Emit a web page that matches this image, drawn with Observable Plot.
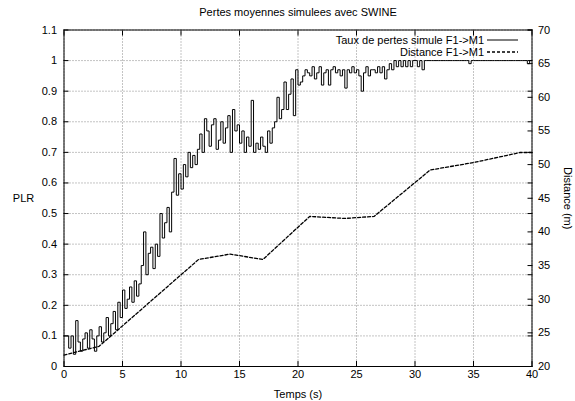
<!DOCTYPE html>
<html><head><meta charset="utf-8">
<script src="https://cdn.jsdelivr.net/npm/d3@7"></script>
<script src="https://cdn.jsdelivr.net/npm/@observablehq/plot@0.6"></script>
<style>body{margin:0;background:#fff}</style>
</head><body><div id="chart"></div>
<script>
const title = "Pertes moyennes simulees avec SWINE";
const xLabel = "Temps (s)";
const yLabel = "PLR";
const y2Label = "Distance (m)";
const plrName = "Taux de pertes simule F1->M1";
const distName = "Distance F1->M1";

const xTicks = [0, 5, 10, 15, 20, 25, 30, 35, 40];
const yTicks = [0, 0.1, 0.2, 0.3, 0.4, 0.5, 0.6, 0.7, 0.8, 0.9, 1, 1.1];
const y2Ticks = [20, 25, 30, 35, 40, 45, 50, 55, 60, 65, 70];

// PLR sampled every 0.2 s from 0 to 40 s
const plrStep = 0.2;
const plrValues = [
  0.10, 0.10, 0.06, 0.10, 0.04, 0.15, 0.08, 0.05, 0.09, 0.11, 0.06, 0.12, 0.09, 0.05, 0.10,
  0.13, 0.08, 0.11, 0.16, 0.10, 0.14, 0.18, 0.12, 0.21, 0.16,
  0.25, 0.19, 0.22, 0.26, 0.21, 0.28, 0.23, 0.27, 0.33, 0.44,
  0.30, 0.37, 0.39, 0.32, 0.40, 0.36, 0.50, 0.42, 0.47, 0.52,
  0.44, 0.57, 0.68, 0.56, 0.63, 0.58, 0.66, 0.62, 0.70, 0.65,
  0.69, 0.66, 0.71, 0.76, 0.70, 0.81, 0.77, 0.72, 0.79, 0.81,
  0.71, 0.74, 0.80, 0.73, 0.78, 0.82, 0.70, 0.84, 0.77, 0.79,
  0.73, 0.77, 0.70, 0.75, 0.72, 0.87, 0.70, 0.73, 0.71, 0.75,
  0.72, 0.70, 0.77, 0.73, 0.78, 0.80, 0.88, 0.81, 0.84, 0.93,
  0.84, 0.89, 0.94, 0.82, 0.97, 0.92, 0.93, 0.95, 0.97, 0.96,
  0.95, 0.98, 0.94, 0.96, 0.98, 0.92, 0.96, 0.97, 0.92, 0.97,
  0.98, 0.96, 0.97, 0.95, 0.97, 0.91, 0.97, 0.96, 0.98, 0.96,
  0.97, 0.95, 0.90, 0.96, 0.98, 0.95, 0.97, 0.97, 0.96, 0.98,
  0.96, 0.98, 0.94, 0.97, 0.99, 0.97, 1.00, 0.98, 1.00, 0.98,
  1.00, 0.98, 1.00, 0.98, 1.00, 1.00, 0.98, 1.00, 0.97, 1.00,
  1.00, 1.00, 1.00, 1.00, 1.00, 1.00, 1.00, 1.00, 1.00, 1.00,
  1.00, 1.00, 1.00, 1.00, 1.00, 1.00, 1.00, 1.00, 0.99, 1.00,
  1.00, 1.00, 1.00, 1.00, 1.00, 1.00, 1.00, 1.00, 1.00, 1.00,
  1.00, 1.00, 1.00, 1.00, 1.00, 1.00, 1.00, 1.00, 1.00, 1.00,
  1.00, 1.00, 1.00, 0.99, 1.00, 1.00
];
const plrTimes = plrValues.map((_, i) => +(i * plrStep).toFixed(1));

const distTimes  = [0,    3,    11.5, 14.2, 17,   21,   24,   26.5, 31.3, 35,   39,   40];
const distValues = [21.7, 23.0, 35.9, 36.7, 35.9, 42.3, 42.0, 42.3, 49.2, 50.3, 51.8, 51.8];

const yMax = 1.1, y2Min = 20, y2Max = 70;
const toY = d => (d - y2Min) / (y2Max - y2Min) * yMax;
const fromY = v => v / yMax * (y2Max - y2Min) + y2Min;

const FONT = "Liberation Sans, Arial, Helvetica, sans-serif";

function legendSamples(index, scales, values, dims) {
  const g = d3.create("svg:g");
  const x2 = dims.width - dims.marginRight - 13.5;
  const x1 = x2 - 31;
  [[dims.marginTop + 10.5, null, 1], [dims.marginTop + 22.5, "3,2", 1.3]].forEach(([y, dash, w]) => {
    g.append("line").attr("x1", x1).attr("x2", x2).attr("y1", y).attr("y2", y)
      .attr("stroke", "#000").attr("stroke-width", w).attr("stroke-dasharray", dash);
  });
  return g.node();
}

const chart = Plot.plot({
  width: 575,
  height: 401,
  marginLeft: 63.5,
  marginRight: 43.5,
  marginTop: 29.5,
  marginBottom: 35,
  style: {fontFamily: FONT, fontSize: "11px", background: "#fff", color: "#000"},
  x: {domain: [0, 40]},
  y: {domain: [0, yMax]},
  marks: [
    Plot.gridX(xTicks, {stroke: "#888", strokeOpacity: 1, strokeDasharray: "1,2"}),
    Plot.gridY(yTicks, {stroke: "#888", strokeOpacity: 1, strokeDasharray: "1,2"}),
    Plot.axisX(xTicks, {anchor: "bottom", tickSize: 0, tickPadding: 4, label: null}),
    Plot.axisX(xTicks, {anchor: "bottom", tickSize: -5, fill: "none", label: null}),
    Plot.axisX(xTicks, {anchor: "top", tickSize: -5, fill: "none", label: null}),
    Plot.axisY(yTicks, {anchor: "left", tickSize: 0, tickPadding: 7, label: null, tickFormat: d => String(+d.toFixed(1))}),
    Plot.axisY(yTicks, {anchor: "left", tickSize: -5, fill: "none", label: null}),
    Plot.axisY(yTicks, {anchor: "right", tickSize: -5, fill: "none", label: null}),
    Plot.axisY(y2Ticks.map(toY), {anchor: "right", tickSize: 0, tickPadding: 6, label: null, tickFormat: v => String(Math.round(fromY(v)))}),
    Plot.axisY(y2Ticks.map(toY), {anchor: "right", tickSize: -5, fill: "none", label: null}),
    Plot.line(plrValues, {x: plrTimes, y: plrValues, curve: "step-after", stroke: "#000", strokeWidth: 1}),
    Plot.line(distValues, {x: distTimes, y: distValues.map(toY), stroke: "#000", strokeWidth: 1.3, strokeDasharray: "3,2"}),
    Plot.frame({stroke: "#000", strokeWidth: 1}),
    Plot.text([title], {frameAnchor: "top", dy: -17.5, lineAnchor: "middle", fontSize: 11}),
    Plot.text([xLabel], {frameAnchor: "bottom", dy: 28, lineAnchor: "middle", fontSize: 11}),
    Plot.text([yLabel], {frameAnchor: "left", dx: -40.5, textAnchor: "middle", fontSize: 11}),
    Plot.text([y2Label], {frameAnchor: "right", dx: 35.5, textAnchor: "middle", rotate: 90, fontSize: 11}),
    Plot.text([plrName], {frameAnchor: "top-right", dx: -48, dy: 10.5, textAnchor: "end", lineAnchor: "middle", fontSize: 11}),
    Plot.text([distName], {frameAnchor: "top-right", dx: -48, dy: 22.5, textAnchor: "end", lineAnchor: "middle", fontSize: 11}),
    legendSamples
  ]
});
document.getElementById("chart").appendChild(chart);
</script>
</body></html>
